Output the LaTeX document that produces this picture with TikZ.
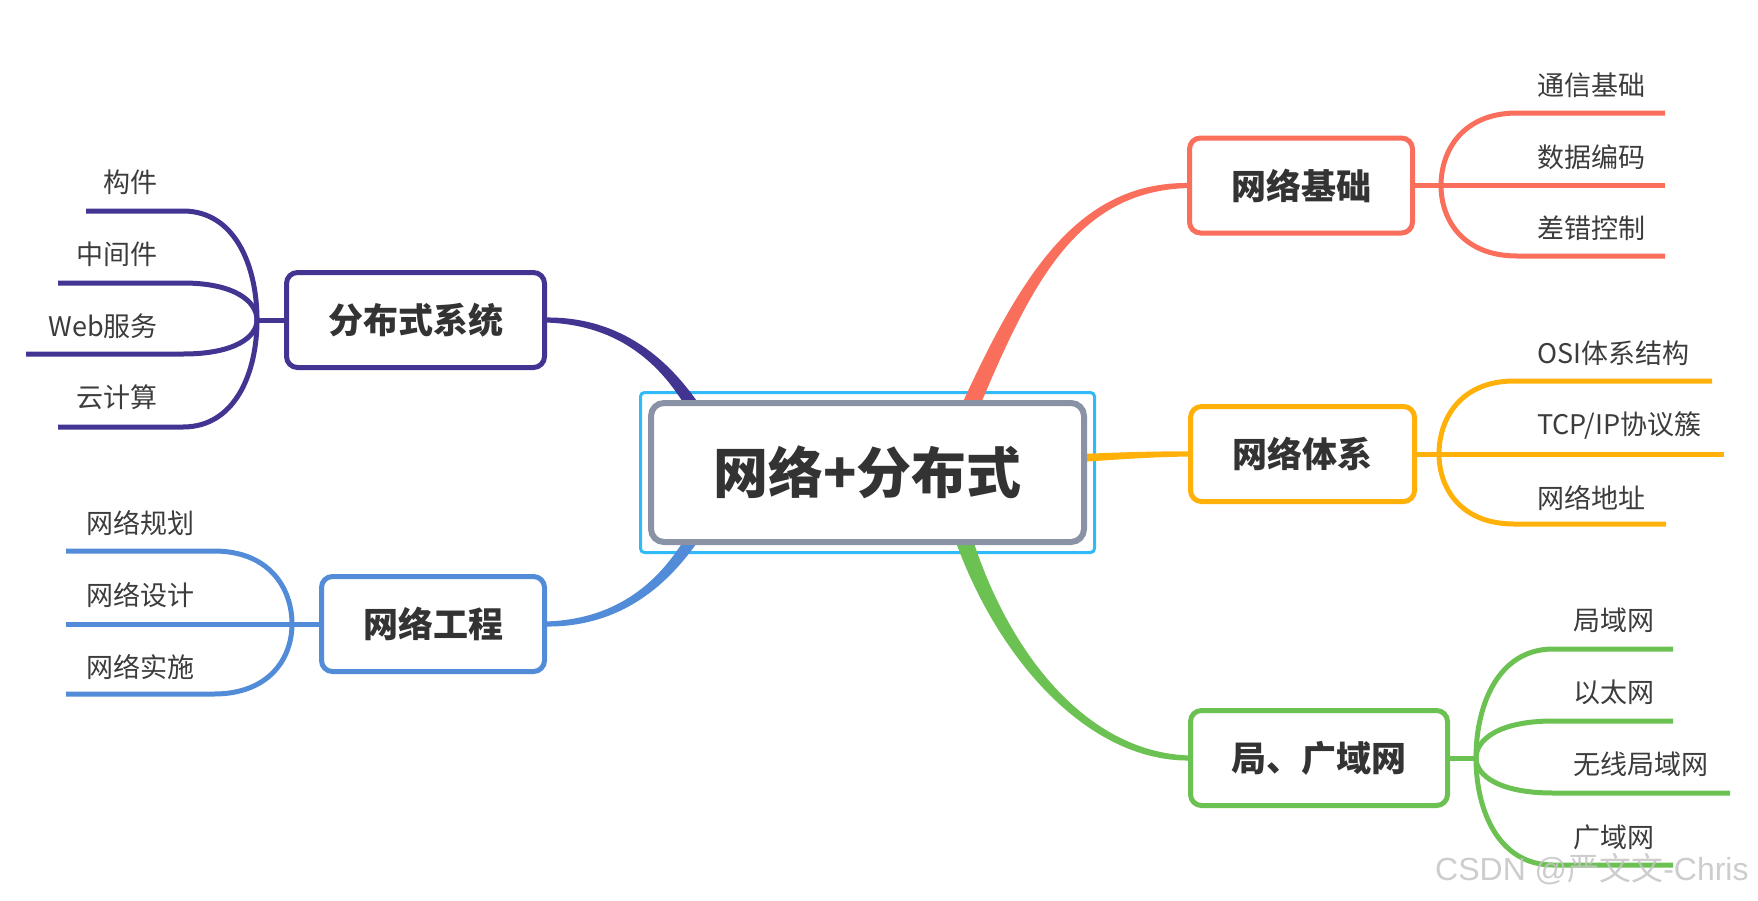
\documentclass[tikz,border=0pt]{standalone}
\usepackage{fontspec}
\setmainfont{Noto Sans CJK SC}
\newfontfamily\wmlat{Liberation Sans}
\usetikzlibrary{calc}
\definecolor{cCoral}{HTML}{FA6E5C}
\definecolor{cAmber}{HTML}{FFB10A}
\definecolor{cGreen}{HTML}{6BC152}
\definecolor{cPurple}{HTML}{423592}
\definecolor{cBlue}{HTML}{528BD7}
\definecolor{cGray}{HTML}{8A93A5}
\definecolor{cSel}{HTML}{30BAF7}
\definecolor{txt}{HTML}{333333}
\definecolor{txtb}{HTML}{3C3C3C}
\definecolor{wmc}{HTML}{C4C4C4}
\pgfdeclarelayer{bg}
\pgfsetlayers{bg,main}
% child branch: color, joint x, joint y, curve end x, child y, line end x
\newcommand\kid[6]{%
  \draw[line width=5, #1] (#2,#3) .. controls (#2,{#3+0.5*(#5-#3)}) and ({#2+0.3*(#4-#2)},#5) .. (#4,#5) -- (#6,#5);}
\begin{document}
\begin{tikzpicture}[x=1pt,y=-1pt,
  topic/.style={draw=#1, line width=5, rounded corners=11, fill=white, minimum height=95, inner sep=0, text=txt, font=\fontsize{35}{40}\selectfont\bfseries},
  kidt/.style={inner sep=0, text=txtb, font=\fontsize{27}{32}\selectfont},
  joint/.style={fill=#1, circle, inner sep=0, minimum size=5}]
\useasboundingbox (0,0) rectangle (1758,900);

% nodes
\node[draw=cGray, line width=6, rounded corners=13, fill=white, minimum width=433, minimum height=139, inner sep=0, text=txt, font=\fontsize{55}{60}\selectfont\bfseries] (c) at (867.5,472.5) {网络+分布式};
\node[topic=cCoral, minimum width=223] (jc) at (1301,185.5) {网络基础};
\node[topic=cAmber, minimum width=224] (tx) at (1302.5,454) {网络体系};
\node[topic=cGreen, minimum width=257] (lw) at (1319,758) {局、广域网};
\node[topic=cPurple, minimum width=258] (fb) at (415.5,320) {分布式系统};
\node[topic=cBlue, minimum width=223] (gc) at (433,624) {网络工程};

% child texts
\node[kidt, anchor=west] (a1) at (1537,85) {通信基础};
\node[kidt, anchor=west] (a2) at (1537,157) {数据编码};
\node[kidt, anchor=west] (a3) at (1537,228) {差错控制};
\node[kidt, anchor=west] (b1) at (1537,353) {OSI体系结构};
\node[kidt, anchor=west] (b2) at (1537,425) {TCP/IP协议簇};
\node[kidt, anchor=west] (b3) at (1537,498) {网络地址};
\node[kidt, anchor=west] (d1) at (1573,620) {局域网};
\node[kidt, anchor=west] (d2) at (1573,692) {以太网};
\node[kidt, anchor=west] (d3) at (1573,764) {无线局域网};
\node[kidt, anchor=west] (d4) at (1573,837) {广域网};
\node[kidt, anchor=east] (e1) at (158,182) {构件};
\node[kidt, anchor=east] (e2) at (158,254) {中间件};
\node[kidt, anchor=east] (e3) at (158,326) {Web服务};
\node[kidt, anchor=east] (e4) at (158,397) {云计算};
\node[kidt, anchor=west] (f1) at (86,523) {网络规划};
\node[kidt, anchor=west] (f2) at (86,595) {网络设计};
\node[kidt, anchor=west] (f3) at (86,667) {网络实施};

\begin{pgfonlayer}{bg}
% selection frame round the central topic
\draw[cSel, line width=3, rounded corners=4] ($(c.north west)+(-7.5,-7.5)$) rectangle ($(c.south east)+(7.5,7.5)$);

% tapered main connectors (from inside the central topic to each main topic)
\fill[cCoral] (968.25,433.6) .. controls (1026.26,294.7) and (1070,190.17) .. ($(jc.west)+(3,2.5)$)
  -- ($(jc.west)+(3,-2.5)$) .. controls (1070,180.83) and (1013.74,289.3) .. (951.75,426.4) -- cycle;
\fill[cAmber] (1000,465) .. controls (1080,464.17) and (1120,457.33) .. ($(tx.west)+(3,2.5)$)
  -- ($(tx.west)+(3,-2.5)$) .. controls (1120,450.67) and (1080,455.83) .. (1000,455) -- cycle;
\fill[cGreen] (946.3,512.3) .. controls (983.4,641.8) and (1080,762.67) .. ($(lw.west)+(3,2.5)$)
  -- ($(lw.west)+(3,-2.5)$) .. controls (1080,753.33) and (996.6,638.2) .. (963.7,507.7) -- cycle;
\fill[cPurple] (733.3,466.5) .. controls (706.3,407.4) and (655,315.33) .. ($(fb.east)+(-3,-2.5)$)
  -- ($(fb.east)+(-3,2.5)$) .. controls (655,324.67) and (693.7,412.6) .. (716.7,473.5) -- cycle;
\fill[cBlue] (716.7,470.5) .. controls (693.7,531.4) and (655,619.33) .. ($(gc.east)+(-3,-2.5)$)
  -- ($(gc.east)+(-3,2.5)$) .. controls (655,628.67) and (706.3,536.6) .. (733.3,477.5) -- cycle;

% sub-branches
\coordinate (jjc) at (1441,185.5);
\coordinate (jtx) at (1439,454);
\coordinate (jlw) at (1476,758);
\coordinate (jfb) at (257,320);
\coordinate (jgc) at (292,624);
\draw[cCoral, line width=5] (jc.east) -- (jjc);
\draw[cAmber, line width=5] (tx.east) -- (jtx);
\draw[cGreen, line width=5] (lw.east) -- (jlw);
\draw[cPurple, line width=5] (fb.west) -- (jfb);
\draw[cBlue, line width=5] (gc.west) -- (jgc);
\node[joint=cCoral] at (jjc) {};
\node[joint=cAmber] at (jtx) {};
\node[joint=cGreen] at (jlw) {};
\node[joint=cPurple] at (jfb) {};
\node[joint=cBlue] at (jgc) {};

\kid{cCoral}{1441}{185.5}{1517}{113}{1665}
\kid{cCoral}{1441}{185.5}{1517}{185.5}{1665}
\kid{cCoral}{1441}{185.5}{1517}{256}{1665}

\kid{cAmber}{1439}{454}{1514}{381}{1712}
\kid{cAmber}{1439}{454}{1514}{454}{1724}
\kid{cAmber}{1439}{454}{1514}{524}{1666}

\kid{cGreen}{1476}{758}{1553}{649}{1673}
\kid{cGreen}{1476}{758}{1553}{721}{1673}
\kid{cGreen}{1476}{758}{1553}{793}{1730}
\kid{cGreen}{1476}{758}{1553}{865}{1673}

\kid{cPurple}{257}{320}{183}{211}{86}
\kid{cPurple}{257}{320}{183}{283}{58}
\kid{cPurple}{257}{320}{183}{354}{26}
\kid{cPurple}{257}{320}{183}{427}{58}

\kid{cBlue}{292}{624}{214}{551}{66}
\kid{cBlue}{292}{624}{214}{624}{66}
\kid{cBlue}{292}{624}{214}{694}{66}
\end{pgfonlayer}

% watermark
\node[anchor=west, inner sep=0, text=wmc, opacity=0.85, font=\fontsize{32}{36}\selectfont] (wm) at (1435,869) {{\wmlat CSDN @}严文文{\wmlat -Chris}};
\end{tikzpicture}
\end{document}
